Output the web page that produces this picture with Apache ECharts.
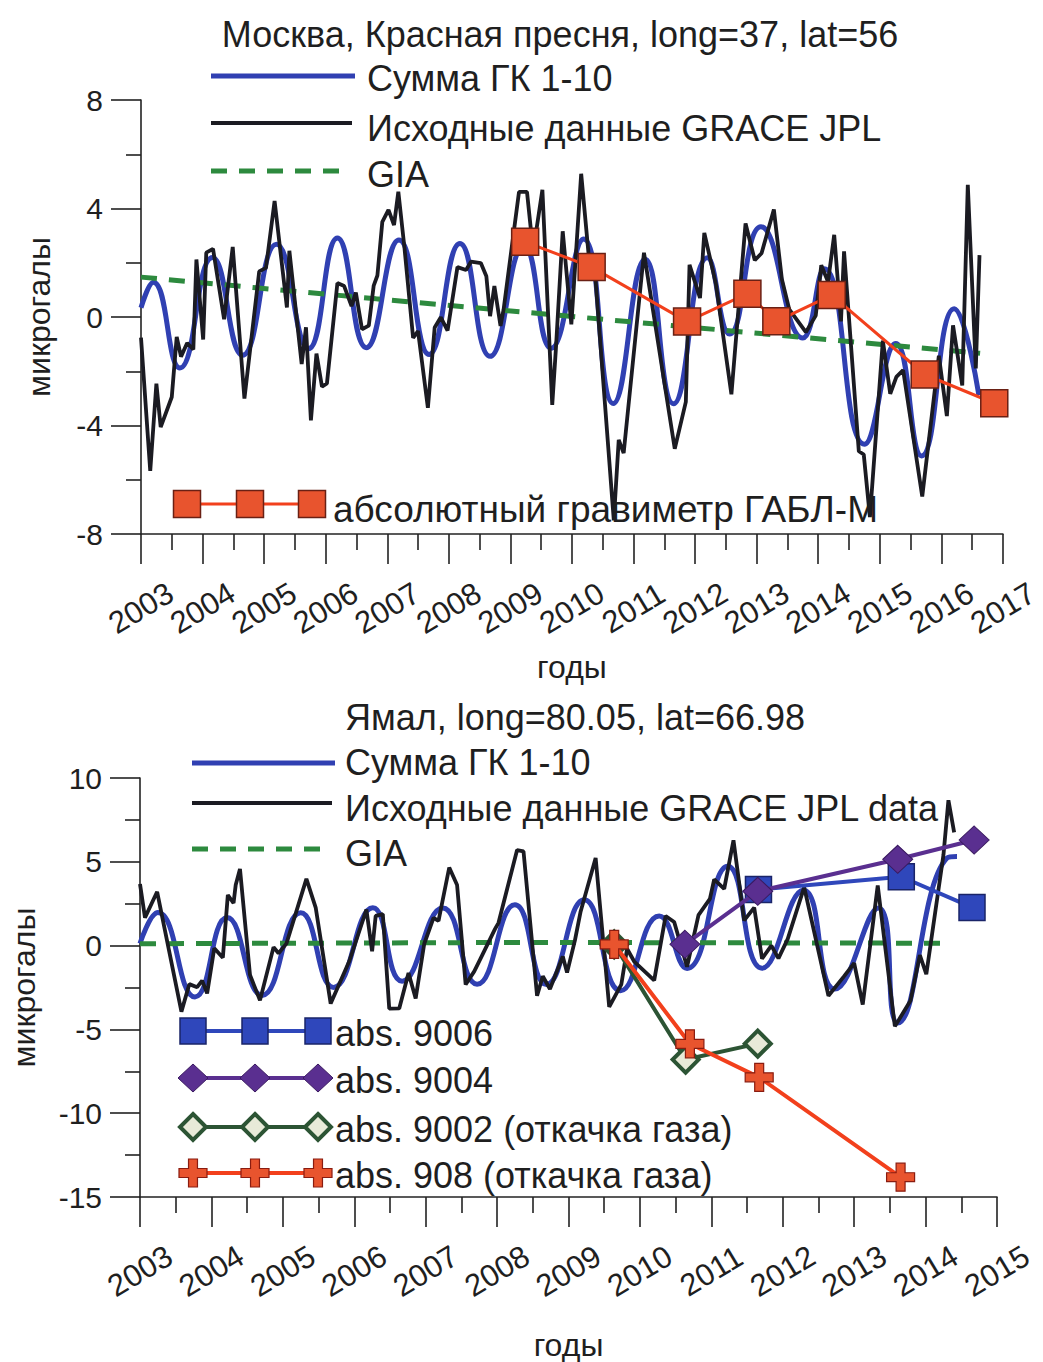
<!DOCTYPE html>
<html>
<head>
<meta charset="utf-8">
<script src="https://cdn.jsdelivr.net/npm/echarts@6/dist/echarts.min.js"></script>
<style>
html,body{margin:0;padding:0;background:#ffffff;}
#chart{width:1043px;height:1362px;}
</style>
</head>
<body>
<div id="chart"></div>
<script>
// ---------- Data: Moscow, Krasnaya Presnya ----------
const mosTitle = 'Москва, Красная пресня, long=37, lat=56';
const yamTitle = 'Ямал, long=80.05, lat=66.98';
const mosYTicks = [-8, -4, 0, 4, 8];
const yamYTicks = [-15, -10, -5, 0, 5, 10];
const mosYears = [2003, 2017];
const yamYears = [2003, 2015];

const mosSum = [[2003.0,0.34],[2003.20,1.28],[2003.63,-1.88],[2004.16,2.19],[2004.65,-1.41],[2005.20,2.68],[2005.72,-1.17],[2006.19,2.91],[2006.66,-1.13],[2007.19,2.84],[2007.68,-1.38],[2008.18,2.71],[2008.67,-1.45],[2009.22,2.63],[2009.66,-1.15],[2010.19,2.88],[2010.67,-3.19],[2011.19,2.13],[2011.65,-3.2],[2012.20,2.18],[2012.56,-0.63],[2013.07,3.33],[2013.75,-0.77],[2014.10,1.78],[2014.75,-4.69],[2015.26,-0.98],[2015.68,-5.12],[2016.21,0.30],[2016.61,-2.88]];

const mosRaw = [[2003.0,-0.76],[2003.15,-5.67],[2003.25,-2.46],[2003.32,-4.06],[2003.50,-2.95],[2003.58,-0.73],[2003.65,-1.46],[2003.75,-0.96],[2003.85,-1.2],[2003.90,2.12],[2004.01,-0.83],[2004.06,2.37],[2004.17,2.51],[2004.35,-0.08],[2004.49,2.58],[2004.68,-3.01],[2004.92,1.68],[2005.03,1.81],[2005.17,4.28],[2005.37,0.35],[2005.41,2.44],[2005.61,-1.73],[2005.68,-0.38],[2005.76,-3.81],[2005.85,-1.35],[2005.94,-2.57],[2006.02,-2.45],[2006.19,1.25],[2006.30,1.14],[2006.42,0.4],[2006.49,0.9],[2006.59,-0.45],[2006.70,-0.32],[2006.78,1.16],[2006.84,1.53],[2006.92,3.51],[2007.02,3.95],[2007.11,3.39],[2007.18,4.62],[2007.28,2.54],[2007.42,-0.77],[2007.50,-0.52],[2007.66,-3.35],[2007.77,-0.39],[2007.87,-0.01],[2007.98,-0.5],[2008.14,1.84],[2008.28,1.73],[2008.36,2.04],[2008.52,1.99],[2008.61,1.5],[2008.67,0.03],[2008.74,1.14],[2008.84,-0.33],[2008.89,0.28],[2009.14,4.61],[2009.27,4.61],[2009.37,2.41],[2009.52,4.69],[2009.68,-3.24],[2009.74,-1.15],[2009.85,3.16],[2009.99,-0.27],[2010.15,5.28],[2010.30,1.58],[2010.38,1.47],[2010.68,-7.5],[2010.76,-4.53],[2010.84,-5.02],[2011.17,2.37],[2011.67,-4.86],[2011.85,-3.13],[2011.91,1.92],[2012.08,0.7],[2012.15,3.1],[2012.34,1.2],[2012.59,-2.85],[2012.82,3.45],[2012.97,2.09],[2013.08,2.35],[2013.28,3.96],[2013.41,1.39],[2013.53,0.28],[2013.80,-0.56],[2013.96,0.05],[2014.05,1.91],[2014.16,1.3],[2014.26,3.03],[2014.37,-0.16],[2014.42,2.42],[2014.66,-4.95],[2014.74,-5.07],[2014.84,-7.38],[2015.05,-0.87],[2015.17,-2.83],[2015.27,-2.21],[2015.38,-1.96],[2015.69,-6.62],[2015.96,-1.43],[2016.09,-3.65],[2016.19,-0.31],[2016.34,-2.52],[2016.43,4.87],[2016.56,-1.9],[2016.62,2.28]];

const mosGia = [[2003.0,1.47],[2006.82,0.67],[2016.63,-1.34]];

const mosAbs = [[2009.24,2.77],[2010.32,1.84],[2011.87,-0.17],[2012.85,0.86],[2013.32,-0.16],[2014.22,0.81],[2015.73,-2.12],[2016.86,-3.18]];

// ---------- Data: Yamal ----------
const yamSum = [[2003.0,0.12],[2003.25,1.97],[2003.77,-3.06],[2004.22,1.67],[2004.71,-2.97],[2005.25,1.96],[2005.71,-2.5],[2006.26,2.26],[2006.67,-2.12],[2007.24,2.25],[2007.72,-2.31],[2008.25,2.44],[2008.69,-2.32],[2009.22,2.73],[2009.73,-2.69],[2010.27,1.77],[2010.66,-1.36],[2011.23,4.74],[2011.71,-1.35],[2012.29,3.3],[2012.73,-2.59],[2013.34,2.25],[2013.61,-4.62],[2014.30,5.22],[2014.44,5.32]];

const yamRaw = [[2003.0,3.67],[2003.07,1.67],[2003.24,3.21],[2003.58,-3.94],[2003.69,-2.3],[2003.80,-2.48],[2003.87,-2.09],[2003.94,-2.85],[2004.04,-0.16],[2004.16,-0.72],[2004.23,3.02],[2004.31,2.54],[2004.34,3.61],[2004.40,4.57],[2004.54,-1.75],[2004.68,-3.27],[2004.87,-0.09],[2004.94,-0.46],[2005.05,0.12],[2005.33,3.98],[2005.46,2.27],[2005.67,-3.46],[2005.93,-0.94],[2006.17,2.15],[2006.25,-0.34],[2006.30,1.77],[2006.40,1.88],[2006.49,-3.76],[2006.63,-3.75],[2006.76,-1.63],[2006.86,-3.15],[2006.98,0.11],[2007.11,1.66],[2007.18,1.47],[2007.33,4.66],[2007.44,3.61],[2007.56,-2.32],[2007.68,-1.54],[2007.77,-0.76],[2007.97,0.98],[2008.02,1.36],[2008.28,5.7],[2008.37,5.62],[2008.56,-2.99],[2008.64,-1.83],[2008.74,-2.59],[2008.92,-0.65],[2008.98,-1.61],[2009.09,0.31],[2009.17,2.04],[2009.38,5.23],[2009.57,-3.66],[2009.74,-2.31],[2009.82,-0.19],[2009.92,-0.95],[2010.20,-2.07],[2010.36,1.77],[2010.48,1.41],[2010.66,-1.26],[2010.82,1.82],[2010.98,2.79],[2011.04,3.95],[2011.18,3.38],[2011.31,6.28],[2011.46,1.5],[2011.60,2.27],[2011.71,-0.78],[2011.84,0.0],[2011.94,-0.76],[2012.07,0.4],[2012.30,3.49],[2012.64,-2.99],[2012.86,-1.82],[2013.00,-1.04],[2013.12,-3.52],[2013.33,3.59],[2013.57,-4.82],[2013.79,-3.27],[2013.92,-0.57],[2014.01,-1.71],[2014.25,5.4],[2014.32,8.67],[2014.40,6.76]];

const yamGia = [[2003.0,0.11],[2008.5,0.19],[2014.36,0.14]];

const abs9006 = [[2011.66,3.34],[2013.66,4.11],[2014.65,2.28]];
const abs9004 = [[2010.63,0.08],[2011.65,3.24],[2013.61,5.15],[2014.68,6.3]];
const abs9002 = [[2009.64,0.07],[2010.64,-6.8],[2011.65,-5.85]];
const abs908  = [[2009.64,0.07],[2010.70,-5.86],[2011.67,-7.86],[2013.65,-13.82]];

// ---------- Styling ----------
const FONT = '"Liberation Sans", Arial, sans-serif';
const TXT = '#1f1f1f';
const BLUE = '#3040b2';
const BLACK = '#1b1b22';
const GREEN = '#2d8a3e';
const RED_LINE = '#f2401c';
const RED_FILL = '#e8542e';
const BLUE_ABS = '#2f47bb';
const PURPLE = '#5a2f90';
const DKGREEN = '#2c5434';
const CROSS_PATH = 'path://M34,0H66V34H100V66H66V100H34V66H0V34H34Z';
const LEG = 36;

function xAxisCfg(gi, yrs, nameGap) {
  return {
    type: 'value', gridIndex: gi, min: yrs[0], max: yrs[1], interval: 1,
    name: 'годы', nameLocation: 'middle', nameGap: nameGap, nameMoveOverlap: false,
    nameTextStyle: {fontFamily: FONT, fontSize: 32, color: TXT},
    axisLine: {show: true, onZero: false, lineStyle: {color: '#222', width: 1.6}},
    axisTick: {show: true, length: 30, lineStyle: {color: '#222', width: 1.6}},
    minorTick: {show: true, splitNumber: 2, length: 16, lineStyle: {color: '#222', width: 1.6}},
    splitLine: {show: false}, minorSplitLine: {show: false},
    axisLabel: {fontFamily: FONT, fontSize: 31, color: TXT, rotate: 31, margin: 74,
      align: 'center', verticalAlign: 'middle', hideOverlap: false, formatter: v => String(v)}
  };
}
function yAxisCfg(gi, ticks, nameGap) {
  return {
    type: 'value', gridIndex: gi, min: ticks[0], max: ticks[ticks.length - 1],
    interval: ticks[1] - ticks[0],
    name: 'микрогалы', nameLocation: 'middle', nameGap: nameGap, nameRotate: 90, nameMoveOverlap: false,
    nameTextStyle: {fontFamily: FONT, fontSize: 32, color: TXT},
    axisLine: {show: true, onZero: false, lineStyle: {color: '#222', width: 1.6}},
    axisTick: {show: true, length: 30, lineStyle: {color: '#222', width: 1.6}},
    minorTick: {show: true, splitNumber: 2, length: 15, lineStyle: {color: '#222', width: 1.6}},
    splitLine: {show: false}, minorSplitLine: {show: false},
    axisLabel: {fontFamily: FONT, fontSize: 30, color: TXT, margin: 38}
  };
}

// ---------- Legend drawing helpers (graphic) ----------
function hline(x1, x2, y, color, w, dash) {
  return {type: 'line', z: 100, shape: {x1: x1, y1: y, x2: x2, y2: y},
    style: {stroke: color, lineWidth: w, lineDash: dash || null, lineCap: 'butt'}};
}
function sq(cx, cy, s, fill, stroke) {
  return {type: 'rect', z: 101, shape: {x: cx - s / 2, y: cy - s / 2, width: s, height: s},
    style: {fill: fill, stroke: stroke, lineWidth: 1.5}};
}
function dia(cx, cy, w, h, fill, stroke, lw) {
  return {type: 'polygon', z: 101,
    shape: {points: [[cx, cy - h / 2], [cx + w / 2, cy], [cx, cy + h / 2], [cx - w / 2, cy]]},
    style: {fill: fill, stroke: stroke, lineWidth: lw}};
}
function crs(cx, cy, s, fill, stroke) {
  const a = s * 0.16, h = s / 2;
  return {type: 'polygon', z: 101,
    shape: {points: [[cx - a, cy - h], [cx + a, cy - h], [cx + a, cy - a], [cx + h, cy - a], [cx + h, cy + a],
      [cx + a, cy + a], [cx + a, cy + h], [cx - a, cy + h], [cx - a, cy + a], [cx - h, cy + a],
      [cx - h, cy - a], [cx - a, cy - a]]},
    style: {fill: fill, stroke: stroke, lineWidth: 1.2}};
}
function txt(x, y, t, size) {
  return {type: 'text', z: 102, x: x, y: y,
    style: {text: t, fontFamily: FONT, fontSize: size || LEG, fill: TXT,
      textAlign: 'left', align: 'left', textVerticalAlign: 'middle', verticalAlign: 'middle'}};
}

const graphics = [
  // top legend
  hline(211, 355, 76, BLUE, 5), txt(367, 78, 'Сумма ГК 1-10'),
  hline(211, 352, 123, BLACK, 3.8), txt(367, 128, 'Исходные данные GRACE JPL'),
  hline(211, 345, 171, GREEN, 5, [16, 12]), txt(367, 174, 'GIA'),
  hline(187, 312, 504, RED_LINE, 3),
  sq(187, 504, 27, RED_FILL, '#6a2014'), sq(250, 504, 27, RED_FILL, '#6a2014'), sq(312, 504, 27, RED_FILL, '#6a2014'),
  txt(333, 509, 'абсолютный гравиметр ГАБЛ-М', 37),
  // bottom legend
  hline(192, 335, 763, BLUE, 5), txt(345, 762, 'Сумма ГК 1-10'),
  hline(192, 332, 803, BLACK, 3.8), txt(345, 808, 'Исходные данные GRACE JPL data'),
  hline(192, 325, 849, GREEN, 5, [16, 12]), txt(345, 853, 'GIA'),
  hline(193, 318, 1031, BLUE_ABS, 4),
  sq(193, 1031, 26, BLUE_ABS, '#1a2468'), sq(255, 1031, 26, BLUE_ABS, '#1a2468'), sq(318, 1031, 26, BLUE_ABS, '#1a2468'),
  txt(335, 1033, 'abs. 9006'),
  hline(193, 318, 1078, PURPLE, 4),
  dia(193, 1078, 30, 28, PURPLE, '#3a1a60', 1), dia(255, 1078, 30, 28, PURPLE, '#3a1a60', 1), dia(318, 1078, 30, 28, PURPLE, '#3a1a60', 1),
  txt(335, 1080, 'abs. 9004'),
  hline(193, 318, 1127, DKGREEN, 4),
  dia(193, 1127, 26, 26, '#e8ead8', DKGREEN, 4), dia(255, 1127, 26, 26, '#e8ead8', DKGREEN, 4), dia(318, 1127, 26, 26, '#e8ead8', DKGREEN, 4),
  txt(335, 1129, 'abs. 9002 (откачка газа)'),
  hline(193, 318, 1173, RED_LINE, 4),
  crs(193, 1173, 28, RED_FILL, '#8a1c10'), crs(255, 1173, 28, RED_FILL, '#8a1c10'), crs(318, 1173, 28, RED_FILL, '#8a1c10'),
  txt(335, 1175, 'abs. 908 (откачка газа)')
];

function lineSeries(name, xi, data, color, width, z, extra) {
  return Object.assign({
    name: name, type: 'line', xAxisIndex: xi, yAxisIndex: xi, data: data,
    symbol: 'none', z: z, lineStyle: {color: color, width: width}, itemStyle: {color: color},
    animation: false, silent: true
  }, extra || {});
}

const option = {
  backgroundColor: '#ffffff',
  animation: false,
  title: [
    {text: mosTitle, left: 555, top: 11, textAlign: 'center',
      textStyle: {fontFamily: FONT, fontSize: 36, fontWeight: 'normal', color: TXT}},
    {text: yamTitle, left: 570, top: 694, textAlign: 'center',
      textStyle: {fontFamily: FONT, fontSize: 36, fontWeight: 'normal', color: TXT}}
  ],
  grid: [
    {left: 141, top: 100, width: 870, height: 434, containLabel: false},
    {left: 125, top: 778, width: 872, height: 435, containLabel: false}
  ],
  xAxis: [xAxisCfg(0, mosYears, 117), xAxisCfg(1, yamYears, 132)],
  yAxis: [yAxisCfg(0, mosYTicks, 86), yAxisCfg(1, yamYTicks, 100)],
  series: [
    lineSeries('Сумма ГК 1-10', 0, mosSum, BLUE, 5, 2, {smooth: 0.5}),
    lineSeries('GIA', 0, mosGia, GREEN, 5, 3, {lineStyle: {color: GREEN, width: 5, type: [16, 12]}}),
    lineSeries('Исходные данные GRACE JPL', 0, mosRaw, BLACK, 3.8, 4),
    lineSeries('абсолютный гравиметр ГАБЛ-М', 0, mosAbs, RED_LINE, 3, 5, {
      symbol: 'rect', symbolSize: 27, showSymbol: true,
      itemStyle: {color: RED_FILL, borderColor: '#6a2014', borderWidth: 1.5}}),

    lineSeries('Сумма ГК 1-10 ', 1, yamSum, BLUE, 5, 2, {smooth: 0.5}),
    lineSeries('GIA ', 1, yamGia, GREEN, 5, 3, {lineStyle: {color: GREEN, width: 5, type: [16, 12]}}),
    lineSeries('Исходные данные GRACE JPL data', 1, yamRaw, BLACK, 3.8, 4),
    lineSeries('abs. 9006', 1, abs9006, BLUE_ABS, 4, 6, {
      symbol: 'rect', symbolSize: 26, showSymbol: true,
      itemStyle: {color: BLUE_ABS, borderColor: '#1a2468', borderWidth: 1.5}}),
    lineSeries('abs. 9004', 1, abs9004, PURPLE, 4, 7, {
      symbol: 'diamond', symbolSize: [30, 28], showSymbol: true,
      itemStyle: {color: PURPLE, borderColor: '#3a1a60', borderWidth: 1}}),
    lineSeries('abs. 9002 (откачка газа)', 1, abs9002, DKGREEN, 4, 8, {
      symbol: 'diamond', symbolSize: [26, 26], showSymbol: true,
      itemStyle: {color: '#e8ead8', borderColor: DKGREEN, borderWidth: 4}}),
    lineSeries('abs. 908 (откачка газа)', 1, abs908, RED_LINE, 4, 9, {
      symbol: CROSS_PATH, symbolSize: 28, showSymbol: true,
      itemStyle: {color: RED_FILL, borderColor: '#8a1c10', borderWidth: 1.2}})
  ],
  graphic: graphics
};

const chart = echarts.init(document.getElementById('chart'), null, {renderer: 'svg', width: 1043, height: 1362});
chart.setOption(option);
</script>
</body>
</html>
